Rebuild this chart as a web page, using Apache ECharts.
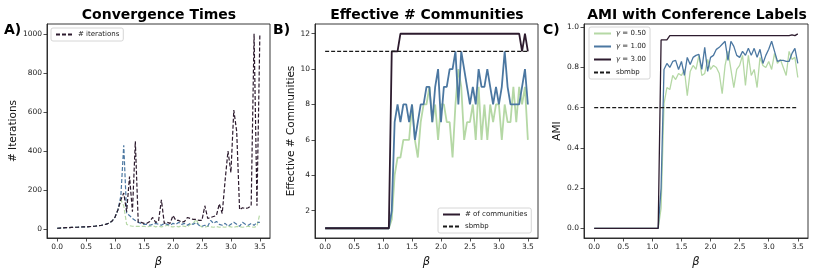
<!DOCTYPE html>
<html>
<head>
<meta charset="utf-8">
<script src="https://cdn.jsdelivr.net/npm/echarts@6/dist/echarts.min.js"></script>
<style>
html,body{margin:0;padding:0;background:#fff;}
#chart{width:830px;height:277px;}
</style>
</head>
<body>
<div id="chart"></div>
<script>
// ---- data ----
const beta = [0.00,0.05,0.10,0.15,0.20,0.25,0.30,0.35,0.40,0.45,0.50,0.55,0.60,0.65,0.70,0.75,0.80,0.85,0.90,0.95,
  1.00,1.05,1.10,1.15,1.20,1.25,1.30,1.35,1.40,1.45,1.50,1.55,1.60,1.65,1.70,1.75,1.80,1.85,1.90,1.95,
  2.00,2.05,2.10,2.15,2.20,2.25,2.30,2.35,2.40,2.45,2.50,2.55,2.60,2.65,2.70,2.75,2.80,2.85,2.90,2.95,
  3.00,3.05,3.10,3.15,3.20,3.25,3.30,3.35,3.40,3.45,3.50];

// Panel A: convergence times (# iterations)
const iterG3 = [5,6,7,8,8,9,10,10,11,12,12,13,14,15,17,19,22,26,32,42,
  62,100,150,185,90,270,90,450,35,35,30,30,40,60,35,40,150,30,35,30,
  70,45,45,35,40,60,55,50,50,45,45,120,55,60,65,70,130,80,250,400,
  290,610,500,100,110,105,110,120,1000,120,1000];
const iterG1 = [5,6,7,8,8,9,10,10,11,12,12,13,14,15,17,19,22,26,32,42,
  62,100,170,430,80,70,55,45,35,30,25,25,20,25,30,25,20,30,25,20,
  30,25,35,25,30,20,30,25,35,20,15,20,15,45,30,40,25,20,30,15,
  25,35,25,15,35,25,20,30,20,35,35];
const iterG05 = [5,6,7,8,8,9,10,10,11,12,12,13,14,15,17,19,22,26,32,42,
  62,100,150,120,25,18,15,15,14,14,15,12,14,18,12,15,12,15,20,14,
  12,15,12,18,14,12,25,30,50,20,12,10,15,12,10,14,10,12,10,15,
  12,10,14,12,10,12,15,12,10,15,80];

// Panel B: effective # communities
const commG3 = [1,1,1,1,1,1,1,1,1,1,1,1,1,1,1,1,1,1,1,1,
  1,1,1,11,11,11,12,12,12,12,12,12,12,12,12,12,12,12,12,12,
  12,12,12,12,12,12,12,12,12,12,12,12,12,12,12,12,12,12,12,12,
  12,12,12,12,12,12,12,12,11,12,11];
const commG1 = [1,1,1,1,1,1,1,1,1,1,1,1,1,1,1,1,1,1,1,1,
  1,1,1,2,7,8,7,8,8,7,8,6,7,8,8,9,9,7,9,10,
  7,9,9,10,10,11,8,11,10,9,8,9,8,10,9,9,10,9,8,9,
  8,9,11,9,8,8,8,8,9,10,8];
const commG05 = [1,1,1,1,1,1,1,1,1,1,1,1,1,1,1,1,1,1,1,1,
  1,1,1,1.5,4,5,5,6,6,6,8,6,5,7,8,8,9,7,8,6,
  8,8,7,7,5,8,10,9,6,7,7,8,6,9,6,8,6,8,7,8,
  8,6,8,7,7,9,7,9,8,9,6];
const sbmbpComm = [11,11,11,11,11,11,11,11,11,11,11,11,11,11,11,11,11,11,11,11,
  11,11,11,11,11,11,11,11,11,11,11,11,11,11,11,11,11,11,11,11,
  11,11,11,11,11,11,11,11,11,11,11,11,11,11,11,11,11,11,11,11,
  11,11,11,11,11,11,11,11,11,11,11];

// Panel C: AMI with conference labels
const amiG3 = [0,0,0,0,0,0,0,0,0,0,0,0,0,0,0,0,0,0,0,0,
  0,0,0,0.937,0.937,0.937,0.958,0.958,0.958,0.958,0.958,0.958,0.958,0.958,0.958,0.958,0.958,0.958,0.958,0.958,
  0.958,0.958,0.958,0.958,0.958,0.958,0.958,0.958,0.958,0.958,0.958,0.958,0.958,0.958,0.958,0.958,0.958,0.958,0.958,0.958,
  0.958,0.958,0.958,0.958,0.958,0.958,0.958,0.958,0.962,0.958,0.967];
const amiG1 = [0,0,0,0,0,0,0,0,0,0,0,0,0,0,0,0,0,0,0,0,
  0,0,0,0.2,0.79,0.82,0.80,0.83,0.835,0.79,0.83,0.76,0.85,0.815,0.85,0.86,0.865,0.79,0.90,0.78,
  0.85,0.86,0.89,0.90,0.915,0.93,0.835,0.93,0.905,0.86,0.85,0.88,0.86,0.895,0.86,0.895,0.85,0.89,0.82,0.86,
  0.89,0.93,0.88,0.83,0.835,0.835,0.83,0.83,0.87,0.895,0.82];
const amiG05 = [0,0,0,0,0,0,0,0,0,0,0,0,0,0,0,0,0,0,0,0,
  0,0,0,0.1,0.62,0.70,0.69,0.76,0.74,0.77,0.76,0.79,0.66,0.78,0.81,0.79,0.86,0.76,0.77,0.84,
  0.79,0.81,0.80,0.77,0.67,0.81,0.88,0.79,0.70,0.79,0.81,0.86,0.71,0.86,0.76,0.79,0.70,0.85,0.81,0.80,
  0.83,0.79,0.87,0.82,0.84,0.80,0.76,0.88,0.84,0.85,0.75];
const sbmbpAmi = [0.6,0.6,0.6,0.6,0.6,0.6,0.6,0.6,0.6,0.6,0.6,0.6,0.6,0.6,0.6,0.6,0.6,0.6,0.6,0.6,
  0.6,0.6,0.6,0.6,0.6,0.6,0.6,0.6,0.6,0.6,0.6,0.6,0.6,0.6,0.6,0.6,0.6,0.6,0.6,0.6,
  0.6,0.6,0.6,0.6,0.6,0.6,0.6,0.6,0.6,0.6,0.6,0.6,0.6,0.6,0.6,0.6,0.6,0.6,0.6,0.6,
  0.6,0.6,0.6,0.6,0.6,0.6,0.6,0.6,0.6,0.6,0.6];

const xTicks = [0,0.5,1,1.5,2,2.5,3,3.5];
const yTicksA = [0,200,400,600,800,1000];
const yTicksB = [2,4,6,8,10,12];
const yTicksC = [0,0.2,0.4,0.6,0.8,1.0];

// ---- styling ----
const DARK = '#2d1b2e', BLUE = '#4b77a1', GREEN = '#b5d8a5', BLACK = '#1a1a1a';
const FONT = 'DejaVu Sans';
const TICK_FS = 7.5;
const pairs = (ys) => beta.map((b, i) => [b, ys[i]]);

function xAxisFor(gi) {
  return {
    type: 'value', gridIndex: gi, min: -0.175, max: 3.675,
    name: 'β', nameLocation: 'middle', nameGap: 15,
    nameTextStyle: {fontFamily: FONT, fontSize: 11.5, fontStyle: 'italic', color: '#111', verticalAlign: 'top'},
    axisLine: {show: true, onZero: false, lineStyle: {color: '#222', width: 0.9}},
    axisTick: {show: true, length: 3.5, customValues: xTicks, lineStyle: {color: '#222', width: 0.8}},
    axisLabel: {customValues: xTicks, formatter: v => v.toFixed(1), fontFamily: FONT, fontSize: TICK_FS, color: '#222', margin: 5},
    splitLine: {show: false}
  };
}
function yAxisFor(gi, min, max, ticks, fmt, name, gap) {
  return {
    type: 'value', gridIndex: gi, min: min, max: max,
    name: name, nameLocation: 'middle', nameGap: gap, nameRotate: 90,
    nameTextStyle: {fontFamily: FONT, fontSize: 10.5, color: '#111'},
    axisLine: {show: true, onZero: false, lineStyle: {color: '#222', width: 0.9}},
    axisTick: {show: true, length: 3.5, customValues: ticks, lineStyle: {color: '#222', width: 0.8}},
    axisLabel: {customValues: ticks, formatter: fmt, fontFamily: FONT, fontSize: TICK_FS, color: '#222', margin: 5},
    splitLine: {show: false}
  };
}
function line(name, gi, ys, color, width, dashed, z) {
  return {
    name: name, type: 'line', xAxisIndex: gi, yAxisIndex: gi, data: pairs(ys),
    symbol: 'none', showSymbol: false, animation: false, z: z,
    lineStyle: {color: color, width: width, type: dashed ? [4, 2] : 'solid'},
    itemStyle: {color: color}
  };
}

const legendBase = {
  orient: 'vertical', itemWidth: 17, itemHeight: 7, itemGap: 4,
  padding: [3, 4, 3, 4], borderColor: '#ccc', borderWidth: 0.8, borderRadius: 2,
  backgroundColor: 'rgba(255,255,255,0.8)',
  itemStyle: {opacity: 0},
  textStyle: {fontFamily: FONT, fontSize: 7, color: '#222', rich: {i: {fontFamily: FONT, fontStyle: 'italic', fontSize: 7}}},
  formatter: n => n.replace('γ', '{i|γ}'),
  selectedMode: false
};

const option = {
  backgroundColor: '#fff',
  animation: false,
  grid: [
    {left: 47, top: 24, width: 223, height: 214, show: true, borderColor: '#222', borderWidth: 0.9},
    {left: 315, top: 24, width: 223, height: 214, show: true, borderColor: '#222', borderWidth: 0.9},
    {left: 584, top: 24, width: 224, height: 214, show: true, borderColor: '#222', borderWidth: 0.9}
  ],
  xAxis: [xAxisFor(0), xAxisFor(1), xAxisFor(2)],
  yAxis: [
    yAxisFor(0, -45, 1050, yTicksA, v => String(v), '# Iterations', 25),
    yAxisFor(1, 0.45, 12.55, yTicksB, v => String(v), 'Effective # Communities', 16),
    yAxisFor(2, -0.048, 1.016, yTicksC, v => v.toFixed(1), 'AMI', 18)
  ],
  legend: [
    Object.assign({}, legendBase, {left: 51, top: 28, data: ['# iterations']}),
    Object.assign({}, legendBase, {left: 438, top: 208, itemGap: 5, data: ['# of communities', 'sbmbp']}),
    Object.assign({}, legendBase, {left: 589, top: 27, itemGap: 6, data: ['γ = 0.50', 'γ = 1.00', 'γ = 3.00', 'sbmbp']})
  ],
  graphic: [
    {type: 'text', x: 159, y: 15, style: {text: 'Convergence Times', font: 'bold 14px "DejaVu Sans"', fill: '#000', textAlign: 'center', textVerticalAlign: 'middle'}},
    {type: 'text', x: 427, y: 15, style: {text: 'Effective # Communities', font: 'bold 14px "DejaVu Sans"', fill: '#000', textAlign: 'center', textVerticalAlign: 'middle'}},
    {type: 'text', x: 697, y: 15, style: {text: 'AMI with Conference Labels', font: 'bold 14px "DejaVu Sans"', fill: '#000', textAlign: 'center', textVerticalAlign: 'middle'}},
    {type: 'text', x: 4, y: 30, style: {text: 'A)', font: 'bold 14px "DejaVu Sans"', fill: '#000', textAlign: 'left', textVerticalAlign: 'middle'}},
    {type: 'text', x: 273, y: 30, style: {text: 'B)', font: 'bold 14px "DejaVu Sans"', fill: '#000', textAlign: 'left', textVerticalAlign: 'middle'}},
    {type: 'text', x: 543, y: 30, style: {text: 'C)', font: 'bold 14px "DejaVu Sans"', fill: '#000', textAlign: 'left', textVerticalAlign: 'middle'}}
  ],
  series: [
    line('iter γ0.5', 0, iterG05, GREEN, 1.2, true, 2),
    line('iter γ1', 0, iterG1, BLUE, 1.2, true, 3),
    line('# iterations', 0, iterG3, DARK, 1.2, true, 4),

    line('comm γ0.5', 1, commG05, GREEN, 1.8, false, 2),
    line('comm γ1', 1, commG1, BLUE, 1.8, false, 3),
    line('# of communities', 1, commG3, DARK, 1.8, false, 4),
    line('sbmbp', 1, sbmbpComm, BLACK, 1.2, true, 5),

    line('γ = 0.50', 2, amiG05, GREEN, 1.3, false, 2),
    line('γ = 1.00', 2, amiG1, BLUE, 1.3, false, 3),
    line('γ = 3.00', 2, amiG3, DARK, 1.3, false, 4),
    line('sbmbp', 2, sbmbpAmi, BLACK, 1.2, true, 5)
  ]
};

const chart = echarts.init(document.getElementById('chart'), null, {renderer: 'canvas'});
chart.setOption(option);
</script>
</body>
</html>
